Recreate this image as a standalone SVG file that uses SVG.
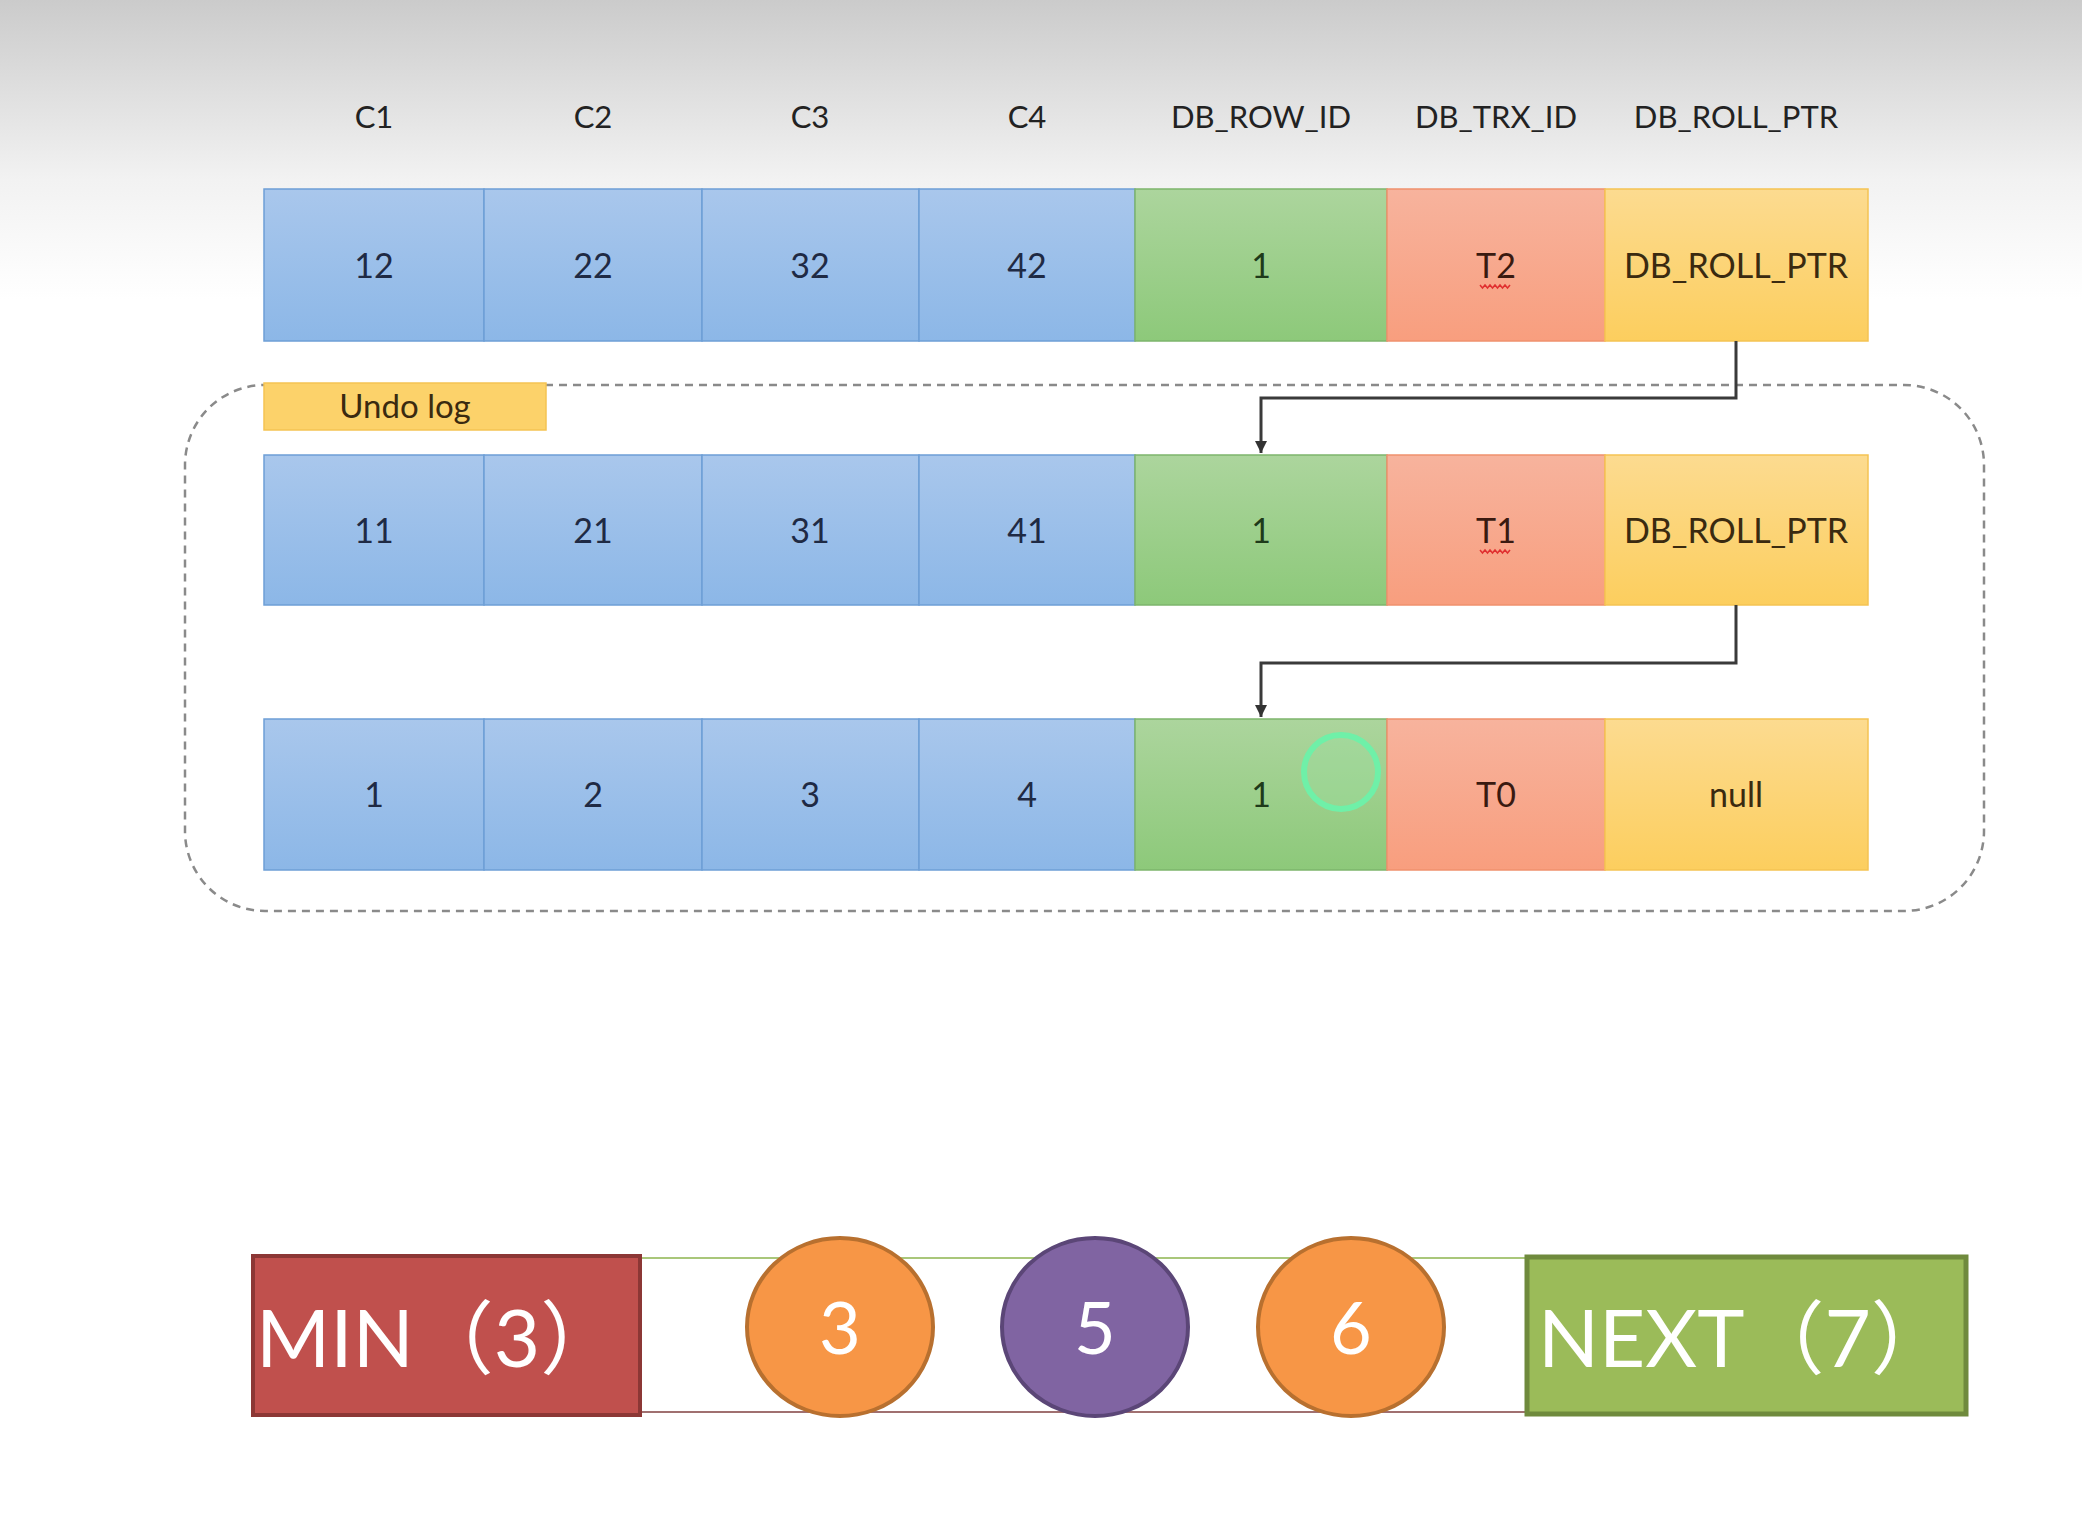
<svg xmlns="http://www.w3.org/2000/svg" width="2082" height="1534" viewBox="0 0 2082 1534">
<defs>
<linearGradient id="bg" x1="0" y1="0" x2="0" y2="1">
<stop offset="0" stop-color="#cbcbcb"/>
<stop offset="0.6" stop-color="#f2f2f2"/>
<stop offset="1" stop-color="#ffffff"/>
</linearGradient>
<linearGradient id="gBlue" x1="0" y1="0" x2="0" y2="1"><stop offset="0" stop-color="#a9c7ec"/><stop offset="1" stop-color="#8cb7e7"/></linearGradient>
<linearGradient id="gGreen" x1="0" y1="0" x2="0" y2="1"><stop offset="0" stop-color="#acd59d"/><stop offset="1" stop-color="#8dc97a"/></linearGradient>
<linearGradient id="gOrange" x1="0" y1="0" x2="0" y2="1"><stop offset="0" stop-color="#f7b39d"/><stop offset="1" stop-color="#f89e7e"/></linearGradient>
<linearGradient id="gYellow" x1="0" y1="0" x2="0" y2="1"><stop offset="0" stop-color="#fcdb90"/><stop offset="1" stop-color="#fcce5e"/></linearGradient>
<marker id="arr" viewBox="0 0 10 10" refX="10" refY="5" markerWidth="4" markerHeight="4" orient="auto">
<path d="M0,0 L10,5 L0,10 z" fill="#333"/>
</marker>
</defs>
<style>
.hdr{font-family:Lato,"Liberation Sans",sans-serif;font-size:31px;fill:#222;text-anchor:middle}
.cell{font-family:Lato,"Liberation Sans",sans-serif;font-size:34px;fill:#1f2a44;text-anchor:middle}
.blue{fill:url(#gBlue);stroke:#6e9fd6;stroke-width:1.5}
.green{fill:url(#gGreen);stroke:#7db56c;stroke-width:1.5}
.orange{fill:url(#gOrange);stroke:#f0916e;stroke-width:1.5}
.yellow{fill:url(#gYellow);stroke:#f5c353;stroke-width:1.5}
.conn{fill:none;stroke:#3a3a3a;stroke-width:3}
.wavy{fill:none;stroke:#e03030;stroke-width:1.5}
.big{font-family:Lato,"Noto Sans CJK SC",sans-serif;font-size:80px;fill:#ffffff}
.num{font-family:Lato,"Liberation Sans",sans-serif;font-size:72px;fill:#ffffff;text-anchor:middle}
</style>
<rect x="0" y="0" width="2082" height="1534" fill="#ffffff"/>
<rect x="0" y="0" width="2082" height="300" fill="url(#bg)"/>

<g id="headers">
<text class="hdr" x="374" y="128">C1</text>
<text class="hdr" x="593" y="128">C2</text>
<text class="hdr" x="810" y="128">C3</text>
<text class="hdr" x="1027" y="128">C4</text>
<text class="hdr" x="1261" y="128">DB_ROW_ID</text>
<text class="hdr" x="1496" y="128">DB_TRX_ID</text>
<text class="hdr" x="1736" y="128">DB_ROLL_PTR</text>
</g>

<g id="undo-log-frame">
<rect x="185" y="385" width="1799" height="526" rx="80" ry="80" fill="none" stroke="#8a8a8a" stroke-width="2.5" stroke-dasharray="8 6"/>
</g>
<g id="undo-log-label">
<rect x="264" y="383" width="282" height="47" fill="#fcd26a" stroke="#f5c353" stroke-width="1.5"/>
<text class="cell" x="405" y="418" style="fill:#3a2a10;font-size:33px">Undo log</text>
</g>

<g id="row-current">
<rect class="blue" x="264" y="189" width="220" height="152"/>
<rect class="blue" x="484" y="189" width="218" height="152"/>
<rect class="blue" x="702" y="189" width="217" height="152"/>
<rect class="blue" x="919" y="189" width="216" height="152"/>
<rect class="green" x="1135" y="189" width="252" height="152"/>
<rect class="orange" x="1387" y="189" width="218" height="152"/>
<rect class="yellow" x="1605" y="189" width="263" height="152"/>
<text class="cell" x="374" y="278">12</text>
<text class="cell" x="593" y="278">22</text>
<text class="cell" x="810" y="278">32</text>
<text class="cell" x="1027" y="278">42</text>
<text class="cell" x="1261" y="278" style="fill:#1e3a1a">1</text>
<text class="cell" x="1496" y="278" style="fill:#3a1a10">T2</text>
<path class="wavy" d="M1480,285 l2.5,3 l2.5,-3 l2.5,3 l2.5,-3 l2.5,3 l2.5,-3 l2.5,3 l2.5,-3 l2.5,3 l2.5,-3 l2.5,3 l2.5,-3"/>
<text class="cell" x="1736" y="278" style="fill:#3a2a10">DB_ROLL_PTR</text>
</g>

<g id="row-undo-1">
<rect class="blue" x="264" y="455" width="220" height="150"/>
<rect class="blue" x="484" y="455" width="218" height="150"/>
<rect class="blue" x="702" y="455" width="217" height="150"/>
<rect class="blue" x="919" y="455" width="216" height="150"/>
<rect class="green" x="1135" y="455" width="252" height="150"/>
<rect class="orange" x="1387" y="455" width="218" height="150"/>
<rect class="yellow" x="1605" y="455" width="263" height="150"/>
<text class="cell" x="374" y="543">11</text>
<text class="cell" x="593" y="543">21</text>
<text class="cell" x="810" y="543">31</text>
<text class="cell" x="1027" y="543">41</text>
<text class="cell" x="1261" y="543" style="fill:#1e3a1a">1</text>
<text class="cell" x="1496" y="543" style="fill:#3a1a10">T1</text>
<path class="wavy" d="M1480,550 l2.5,3 l2.5,-3 l2.5,3 l2.5,-3 l2.5,3 l2.5,-3 l2.5,3 l2.5,-3 l2.5,3 l2.5,-3 l2.5,3 l2.5,-3"/>
<text class="cell" x="1736" y="543" style="fill:#3a2a10">DB_ROLL_PTR</text>
</g>

<g id="row-undo-2">
<rect class="blue" x="264" y="719" width="220" height="151"/>
<rect class="blue" x="484" y="719" width="218" height="151"/>
<rect class="blue" x="702" y="719" width="217" height="151"/>
<rect class="blue" x="919" y="719" width="216" height="151"/>
<rect class="green" x="1135" y="719" width="252" height="151"/>
<rect class="orange" x="1387" y="719" width="218" height="151"/>
<rect class="yellow" x="1605" y="719" width="263" height="151"/>
<text class="cell" x="374" y="807">1</text>
<text class="cell" x="593" y="807">2</text>
<text class="cell" x="810" y="807">3</text>
<text class="cell" x="1027" y="807">4</text>
<text class="cell" x="1261" y="807" style="fill:#1e3a1a">1</text>
<text class="cell" x="1496" y="807" style="fill:#3a1a10">T0</text>
<text class="cell" x="1736" y="807" style="fill:#3a2a10">null</text>
<circle cx="1341" cy="772" r="37" fill="#9be0a0" fill-opacity="0.35" stroke="#6ff0a8" stroke-width="6"/>
</g>

<g id="connectors">
<path class="conn" d="M1736,341 V398 H1261 V453" marker-end="url(#arr)"/>
<path class="conn" d="M1736,605 V663 H1261 V717" marker-end="url(#arr)"/>
</g>

<g id="range-lines">
<line x1="640" y1="1258" x2="1526" y2="1258" stroke="#a9c77a" stroke-width="2"/>
<line x1="640" y1="1412" x2="1526" y2="1412" stroke="#a07070" stroke-width="2"/>
</g>

<g id="min-box">
<rect x="253" y="1256" width="387" height="159" fill="#c0504d" stroke="#8c3735" stroke-width="4"/>
<text class="big" x="256" y="1367">MIN（3）</text>
</g>
<g id="circle-3">
<ellipse cx="840" cy="1327" rx="93" ry="89" fill="#f79646" stroke="#b8702f" stroke-width="4"/>
<text class="num" x="840" y="1354">3</text>
</g>
<g id="circle-5">
<ellipse cx="1095" cy="1327" rx="93" ry="89" fill="#8064a2" stroke="#5b4677" stroke-width="4"/>
<text class="num" x="1095" y="1354">5</text>
</g>
<g id="circle-6">
<ellipse cx="1351" cy="1327" rx="93" ry="89" fill="#f79646" stroke="#b8702f" stroke-width="4"/>
<text class="num" x="1351" y="1354">6</text>
</g>
<g id="next-box">
<rect x="1527" y="1257" width="439" height="157" fill="#9bbb59" stroke="#6f8a3d" stroke-width="5"/>
<text class="big" x="1538" y="1367">NEXT（7）</text>
</g>
</svg>
